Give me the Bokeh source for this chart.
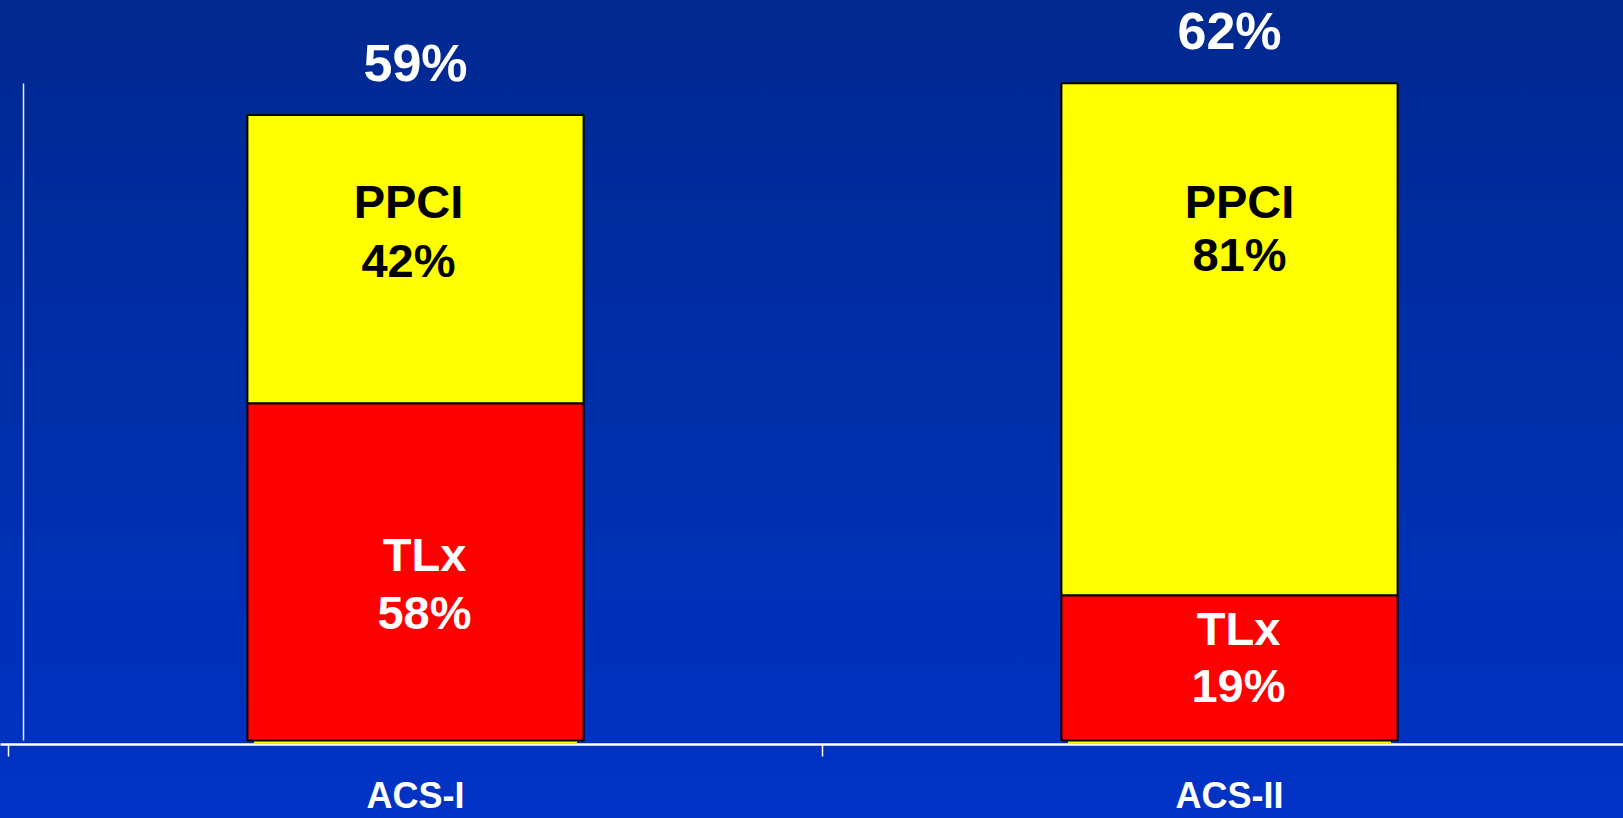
from bokeh.plotting import figure
from bokeh.models import LinearAxis, FixedTicker, Range1d, ColumnDataSource
from bokeh.core.properties import value
from bokeh.embed import file_html
from bokeh.resources import INLINE

# ---- data ----
categories = ["ACS-I", "ACS-II"]
cat_x = [0.5, 1.5]                 # category centres on the x scale
tlx = [31.8, 13.7]                 # red segment heights
ppci = [27.2, 48.3]                # yellow segment heights
total_labels = ["59%", "62%"]
ppci_labels = ["42%", "81%"]
tlx_labels = ["58%", "19%"]

# label placement (data units / pixel offsets)
ppci_name_y = [49.15, 49.15]
ppci_pct_y = [43.6, 44.15]
ppci_dx = [-7, 10]
tlx_name_y = [15.85, 8.87]
tlx_pct_y = [10.4, 3.5]
tlx_dx = [9, 9]

FONT = value("Liberation Sans")
totals = [a + b for a, b in zip(tlx, ppci)]

W, H = 1623, 818
p = figure(width=W, height=H, output_backend="svg", toolbar_location=None,
           x_range=Range1d(-8 / 814, 1615 / 814), y_range=Range1d(-0.377, 69.8),
           x_axis_location=None, y_axis_location=None,
           min_border_left=0, min_border_right=0, min_border_top=0,
           min_border_bottom=74, outline_line_color=None,
           background_fill_color=None, border_fill_color=None)
p.styles = {"background": "linear-gradient(to bottom, #00288f 0%, #002ea8 45%, #0033c6 100%)"}
p.grid.visible = False

src = ColumnDataSource(dict(x=cat_x, tlx=tlx, ppci=ppci, total=totals,
                            zero=[0] * len(cat_x)))

# little 3D bottom edge under each bar
p.vbar(x="x", width=0.398, bottom=-0.3, top="zero", source=src,
       fill_color="#ffff00", line_color="#333300", line_width=1)
# stacked bars
p.vbar_stack(["tlx", "ppci"], x="x", width=0.413, source=src,
             fill_color=["#ff0000", "#ffff00"], line_color="black", line_width=2)

# totals above bars
p.text(x=cat_x, y=totals, text=total_labels, y_offset=-52,
       text_font=FONT, text_font_style="bold", text_font_size="52px",
       text_color="white", text_align="center", text_baseline="alphabetic")

# segment labels
def seg_text(ys, txt, dx, color):
    p.text(x=cat_x, y=ys, text=txt, x_offset=dx, y_offset=-18,
           text_font=FONT, text_font_style="bold", text_font_size="47px",
           text_color=color, text_align="center", text_baseline="alphabetic")

seg_text(ppci_name_y, ["PPCI"] * 2, ppci_dx, "black")
seg_text(ppci_pct_y, ppci_labels, ppci_dx, "black")
seg_text(tlx_name_y, ["TLx"] * 2, tlx_dx, "white")
seg_text(tlx_pct_y, tlx_labels, tlx_dx, "white")

# y axis: a plain line, no ticks or labels
yax = LinearAxis(ticker=FixedTicker(ticks=[]), fixed_location=14.5 / 814,
                 bounds=(0, max(totals)), axis_line_color="#e8ecff",
                 axis_line_width=1.5, major_tick_line_color=None,
                 minor_tick_line_color=None, major_label_standoff=0)
p.add_layout(yax, "left")

# x axis line with ticks at category boundaries
xa = LinearAxis(ticker=FixedTicker(ticks=[0, 1, 2]), axis_line_color="white",
                axis_line_width=2.5, major_tick_line_color="white",
                major_tick_line_width=1.5, major_tick_in=0, major_tick_out=12,
                minor_tick_line_color=None, major_label_text_font_size="1px",
                major_label_overrides={0: "", 1: "", 2: ""},
                major_label_standoff=0)
p.add_layout(xa, "below")

# category labels
xb = LinearAxis(ticker=FixedTicker(ticks=cat_x),
                major_label_overrides={cx: c for cx, c in zip(cat_x, categories)},
                axis_line_color=None, major_tick_line_color=None,
                minor_tick_line_color=None, major_tick_in=0, major_tick_out=0,
                major_label_standoff=18, major_label_text_font="Liberation Sans",
                major_label_text_font_style="bold",
                major_label_text_font_size="36px",
                major_label_text_color="white")
p.add_layout(xb, "below")

open("out.html", "w").write(file_html(p, INLINE))
